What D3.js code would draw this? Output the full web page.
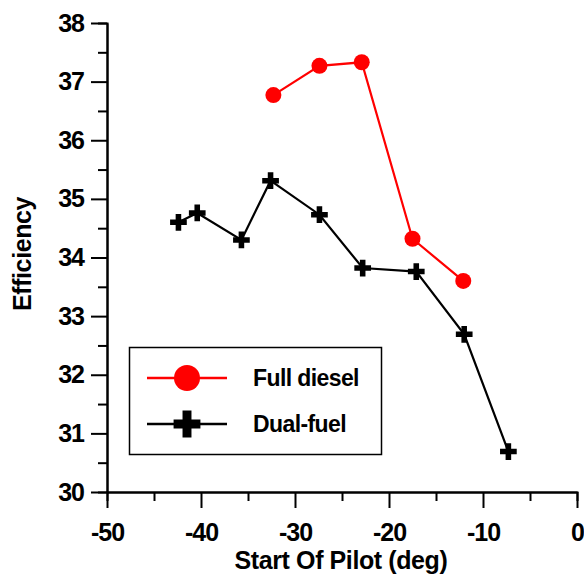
<html>
<head>
<meta charset="utf-8">
<script src="https://d3js.org/d3.v7.min.js"></script>
<style>
  body { margin: 0; background: white; }
  text { font-family: "Liberation Sans", Arial, sans-serif; font-weight: bold; }
</style>
</head>
<body>
<svg width="584" height="575"></svg>
<script>
// data
var dieselX = [-32.3, -27.4, -22.9, -17.5, -12.1]
var dieselY = [36.77, 37.27, 37.33, 34.32, 33.6]
var dualX = [-42.4, -40.4, -35.7, -32.6, -27.4, -22.8, -17.1, -12.0, -7.3]
var dualY = [34.6, 34.76, 34.3, 35.31, 34.73, 33.82, 33.76, 32.69, 30.69]
var xTicks = [-50, -40, -30, -20, -10, 0]
var yTicks = [30, 31, 32, 33, 34, 35, 36, 37, 38]
var seriesNames = ["Full diesel", "Dual-fuel"]

var svg = d3.select("svg")
var x = d3.scaleLinear().domain([-50, 0]).range([107, 577])
var y = d3.scaleLinear().domain([30, 38]).range([492, 23])

// minor ticks
svg.append("g")
  .attr("transform", "translate(0,492)")
  .call(d3.axisBottom(x).tickValues(d3.range(-45, 0, 10)).tickSize(9).tickFormat(""))
svg.append("g")
  .attr("transform", "translate(107,0)")
  .call(d3.axisLeft(y).tickValues(d3.range(30.5, 38, 1)).tickSize(9).tickFormat(""))

// major ticks
var fmt = function(d){ return String(d) }
svg.append("g")
  .attr("transform", "translate(0,492)")
  .call(d3.axisBottom(x).tickValues(xTicks).tickSize(16).tickSizeOuter(0).tickPadding(15).tickFormat(fmt))
svg.append("g")
  .attr("transform", "translate(107,0)")
  .call(d3.axisLeft(y).tickValues(yTicks).tickSize(16).tickSizeOuter(0).tickPadding(7).tickFormat(fmt))

svg.selectAll(".domain, .tick line").attr("stroke", "black").attr("stroke-width", 2)
svg.selectAll(".tick text")
  .attr("fill", "black")
  .style("font-size", "25px")
  .style("font-family", "Liberation Sans, Arial, sans-serif")
  .style("font-weight", "bold")
  .style("letter-spacing", "-1px")

// axis titles
svg.append("text")
  .attr("x", 341).attr("y", 569)
  .attr("text-anchor", "middle")
  .style("font-size", "25px")
  .style("letter-spacing", "-0.4px")
  .text("Start Of Pilot (deg)")
svg.append("text")
  .attr("transform", "translate(31,254) rotate(-90)")
  .attr("text-anchor", "middle")
  .style("font-size", "25px")
  .style("letter-spacing", "-0.4px")
  .text("Efficiency")

var line = d3.line().x(function(d){ return x(d[0]) }).y(function(d){ return y(d[1]) })
var diesel = dieselX.map(function(v, i){ return [v, dieselY[i]] })
var dual = dualX.map(function(v, i){ return [v, dualY[i]] })

svg.append("path").datum(dual)
  .attr("d", line).attr("fill", "none").attr("stroke", "black").attr("stroke-width", 2.2)
svg.append("path").datum(diesel)
  .attr("d", line).attr("fill", "none").attr("stroke", "red").attr("stroke-width", 2.2)

var cross = d3.symbol().type(d3.symbolCross).size(155)
svg.selectAll(".dual").data(dual).enter().append("path")
  .attr("transform", function(d){ return "translate(" + x(d[0]) + "," + y(d[1]) + ")" })
  .attr("d", cross).attr("fill", "black")
svg.selectAll(".diesel").data(diesel).enter().append("circle")
  .attr("cx", function(d){ return x(d[0]) })
  .attr("cy", function(d){ return y(d[1]) })
  .attr("r", 8).attr("fill", "red")

// legend
var leg = svg.append("g")
leg.append("rect")
  .attr("x", 129.5).attr("y", 347.5).attr("width", 252).attr("height", 107)
  .attr("fill", "white").attr("stroke", "black").attr("stroke-width", 1.5)
var rows = [378, 424]
var colors = ["red", "black"]
seriesNames.forEach(function(name, i){
  leg.append("line")
    .attr("x1", 147).attr("x2", 227).attr("y1", rows[i]).attr("y2", rows[i])
    .attr("stroke", colors[i]).attr("stroke-width", 2.5)
  if (i == 0) {
    leg.append("circle").attr("cx", 187).attr("cy", rows[i]).attr("r", 13).attr("fill", "red")
  } else {
    leg.append("path")
      .attr("transform", "translate(187," + rows[i] + ")")
      .attr("d", d3.symbol().type(d3.symbolCross).size(400)).attr("fill", "black")
  }
  leg.append("text")
    .attr("x", 253).attr("y", rows[i] + 8)
    .style("font-size", "23px")
    .style("letter-spacing", "-0.6px")
    .text(name)
})
</script>
</body>
</html>
